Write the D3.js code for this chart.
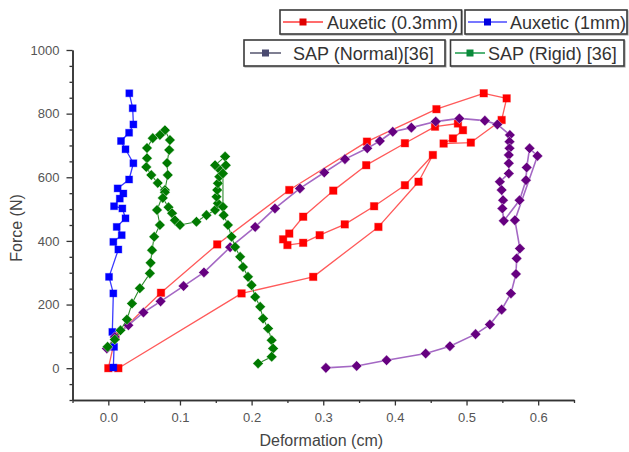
<!DOCTYPE html>
<html>
<head>
<meta charset="utf-8">
<script src="https://cdn.jsdelivr.net/npm/d3@7"></script>
<style>
  html, body { margin: 0; padding: 0; background: #fff; }
  svg { display: block; font-family: "Liberation Sans", Arial, sans-serif; }
</style>
</head>
<body>
<svg id="chart" width="629" height="452"></svg>
<script>
// Force–deformation curves for the auxetic samples and the SAP references
const auxetic03Deformation = [0.0, 0.010, 0.0735, 0.152, 0.2526, 0.361, 0.458, 0.524, 0.556, 0.549, 0.506, 0.468, 0.481, 0.495, 0.488, 0.456, 0.414, 0.360, 0.314, 0.272, 0.2526, 0.244, 0.250, 0.272, 0.295, 0.330, 0.371, 0.414, 0.453, 0.433, 0.377, 0.286, 0.186, 0.014];
const auxetic03Force       = [0, 100, 237, 389, 560, 712, 814, 864, 848, 780, 709, 706, 722, 748, 769, 759, 707, 638, 558, 476, 423, 405, 387, 394, 418, 452, 509, 575, 670, 586, 444, 287, 235, 0];

const auxetic1Deformation = [0.007, 0.008, 0.0056, 0.007, 0.001, 0.014, 0.007, 0.0187, 0.0117, 0.024, 0.0196, 0.008, 0.016, 0.021, 0.013, 0.029, 0.035, 0.024, 0.0177, 0.029, 0.035, 0.034, 0.0293];
const auxetic1Force       = [2, 67, 114, 235, 287, 373, 397, 418, 444, 471, 502, 509, 533, 549, 565, 593, 644, 688, 714, 740, 766, 817, 864];

const sapNormalDeformation = [-0.002, 0.009, 0.028, 0.049, 0.073, 0.105, 0.1335, 0.170, 0.205, 0.2326, 0.2675, 0.3014, 0.3303, 0.3614, 0.379, 0.397, 0.423, 0.457, 0.490, 0.5256, 0.543, 0.5605, 0.560, 0.560, 0.559, 0.559, 0.559, 0.5465, 0.549, 0.551, 0.550, 0.552, 0.574, 0.583, 0.584, 0.588, 0.599, 0.5675, 0.5745, 0.570, 0.569, 0.562, 0.549, 0.5326, 0.5126, 0.4768, 0.443, 0.3884, 0.3466, 0.3037];
const sapNormalForce       = [62, 98, 135, 175, 210, 258, 301, 380, 444, 502, 565, 615, 657, 691, 714, 743, 756, 775, 785, 778, 766, 733, 712, 691, 670, 644, 612, 586, 560, 528, 502, 463, 528, 591, 631, 691, 667, 465, 376, 345, 296, 235, 184, 137, 107, 69, 46, 25, 7, 1];

const sapRigidDeformation = [-0.001, 0.009, 0.017, 0.026, 0.033, 0.044, 0.058, 0.059, 0.061, 0.064, 0.072, 0.068, 0.079, 0.083, 0.082, 0.085, 0.086, 0.079, 0.072, 0.062, 0.054, 0.054, 0.053, 0.060, 0.069, 0.079, 0.076, 0.084, 0.089, 0.093, 0.100, 0.123, 0.137, 0.149, 0.153, 0.151, 0.152, 0.153, 0.155, 0.156, 0.149, 0.163, 0.164, 0.160, 0.160, 0.161, 0.167, 0.172, 0.177, 0.184, 0.188, 0.195, 0.200, 0.205, 0.212, 0.216, 0.223, 0.228, 0.230, 0.228, 0.209];
const sapRigidForce       = [67, 90, 119, 153, 203, 251, 298, 331, 371, 413, 450, 497, 560, 607, 645, 686, 717, 748, 733, 723, 692, 660, 632, 607, 582, 553, 535, 506, 487, 465, 450, 460, 481, 497, 518, 539, 560, 581, 602, 623, 638, 665, 638, 612, 507, 481, 450, 413, 381, 350, 318, 287, 261, 224, 193, 156, 125, 88, 62, 36, 15];

const xTickValues = [0.0, 0.1, 0.2, 0.3, 0.4, 0.5, 0.6];
const yTickValues = [0, 200, 400, 600, 800, 1000];

const seriesNames = ["Auxetic (0.3mm)", "Auxetic (1mm)", "SAP (Normal)[36]", "SAP (Rigid) [36]"];

const toPoints = (xs, ys) => xs.map((x, i) => ({ x, y: ys[i] }));

const series = [
  { name: seriesNames[0], pts: toPoints(auxetic03Deformation, auxetic03Force), line: "#ff5a5a", lw: 1.3, fill: "#ff0000", shape: "square", size: 7.5, legendLine: "#ff3b3b", legendMark: "#e00000" },
  { name: seriesNames[1], pts: toPoints(auxetic1Deformation, auxetic1Force), line: "#3a3aff", lw: 1.3, fill: "#0000ff", shape: "square", size: 7, legendLine: "#4a4aff", legendMark: "#0000e0" },
  { name: seriesNames[2], pts: toPoints(sapNormalDeformation, sapNormalForce), line: "#a468c4", lw: 1.6, fill: "#660080", shape: "diamond", size: 8.5, legendLine: "#55556e", legendMark: "#4a4a70" },
  { name: seriesNames[3], pts: toPoints(sapRigidDeformation, sapRigidForce), line: "#2c8a2c", lw: 1.1, fill: "#007a00", shape: "diamond", size: 8.5, legendLine: "#1a9a4a", legendMark: "#0a8a3a" }
];

const svg = d3.select("#chart");

const x = d3.scaleLinear().domain([-0.05, 0.65]).range([72.5, 574]);
const y = d3.scaleLinear().domain([-100, 1000]).range([400, 50]);

// Axes: ticks point outward, minor ticks every half step
const axisColor = "#333";
const labelColor = "#555";

const xMinor = d3.range(-0.05, 0.651, 0.05).map(v => +v.toFixed(2)).filter(v => !xTickValues.some(t => Math.abs(t - v) < 1e-6));
const yMinor = d3.range(-100, 1001, 50).filter(v => !yTickValues.includes(v));

const xAxisG = svg.append("g").attr("transform", `translate(0,${y(-100)})`);
xAxisG.call(d3.axisBottom(x).tickValues(xMinor).tickSize(3).tickFormat("").tickSizeOuter(0));
xAxisG.append("g").call(d3.axisBottom(x).tickValues(xTickValues).tickSize(5.5).tickPadding(7).tickFormat(d3.format(".1f")).tickSizeOuter(0));

const yAxisG = svg.append("g").attr("transform", `translate(${x(-0.05)},0)`);
yAxisG.call(d3.axisLeft(y).tickValues(yMinor).tickSize(3).tickFormat("").tickSizeOuter(0));
yAxisG.append("g").call(d3.axisLeft(y).tickValues(yTickValues).tickSize(6).tickPadding(7).tickFormat(d3.format("d")).tickSizeOuter(0));

svg.selectAll(".domain").attr("stroke", axisColor).attr("stroke-width", 1.5);
svg.selectAll(".tick line").attr("stroke", axisColor).attr("stroke-width", 1.3);
svg.selectAll(".tick text").attr("fill", labelColor).attr("font-size", 13)
  .attr("font-family", "'Liberation Sans', Arial, sans-serif");

// Axis titles
svg.append("text")
  .attr("x", (x.range()[0] + x.range()[1]) / 2 - 2)
  .attr("y", 446)
  .attr("text-anchor", "middle")
  .attr("font-size", 16)
  .attr("fill", "#444")
  .text("Deformation (cm)");

svg.append("text")
  .attr("transform", `translate(22,228) rotate(-90)`)
  .attr("text-anchor", "middle")
  .attr("font-size", 16)
  .attr("fill", "#444")
  .text("Force (N)");

// Series: lines first, then markers
const lineGen = d3.line().x(d => x(d.x)).y(d => y(d.y));

function drawMarkers(g, s) {
  if (s.shape === "square") {
    g.selectAll("rect").data(s.pts).join("rect")
      .attr("x", d => x(d.x) - s.size / 2)
      .attr("y", d => y(d.y) - s.size / 2)
      .attr("width", s.size)
      .attr("height", s.size)
      .attr("fill", s.fill)
      .attr("stroke", s.fill)
      .attr("stroke-opacity", 0.35)
      .attr("stroke-width", 1);
  } else {
    const h = s.size * 0.62, v = s.size * 0.62;
    g.selectAll("path").data(s.pts).join("path")
      .attr("d", d => {
        const cx = x(d.x), cy = y(d.y);
        return `M${cx},${cy - v}L${cx + h},${cy}L${cx},${cy + v}L${cx - h},${cy}Z`;
      })
      .attr("fill", s.fill)
      .attr("stroke", "#fff")
      .attr("stroke-opacity", 0.5)
      .attr("stroke-width", 0.8);
  }
}

series.forEach(s => {
  const g = svg.append("g");
  g.append("path")
    .datum(s.pts)
    .attr("d", lineGen)
    .attr("fill", "none")
    .attr("stroke", s.line)
    .attr("stroke-width", s.lw)
    .attr("stroke-linejoin", "round");
  drawMarkers(g.append("g"), s);
});

// Legend: four framed entries in two rows
const legendBoxes = [
  { x0: 280, x1: 461.5, y0: 10, y1: 34, l0: 283, l1: 323, tx: 327 },
  { x0: 465, x1: 627, y0: 10, y1: 34, l0: 468, l1: 507, tx: 510 },
  { x0: 244, x1: 445, y0: 40, y1: 66, l0: 250, l1: 281, tx: 293 },
  { x0: 450.5, x1: 624, y0: 40, y1: 66, l0: 455, l1: 485, tx: 488 }
];

const legend = svg.append("g");
legendBoxes.forEach((b, i) => {
  const s = series[i];
  const g = legend.append("g");
  g.append("rect")
    .attr("x", b.x0 + 1).attr("y", b.y0 + 1)
    .attr("width", b.x1 - b.x0).attr("height", b.y1 - b.y0)
    .attr("fill", "none").attr("stroke", "#aaa").attr("stroke-width", 1.2);
  g.append("rect")
    .attr("x", b.x0).attr("y", b.y0)
    .attr("width", b.x1 - b.x0).attr("height", b.y1 - b.y0)
    .attr("fill", "#fff").attr("stroke", "#3a3a3a").attr("stroke-width", 1.6);
  const cy = (b.y0 + b.y1) / 2;
  g.append("line")
    .attr("x1", b.l0).attr("x2", b.l1).attr("y1", cy).attr("y2", cy)
    .attr("stroke", s.legendLine).attr("stroke-width", 1.5);
  g.append("rect")
    .attr("x", (b.l0 + b.l1) / 2 - 3.5).attr("y", cy - 3.5)
    .attr("width", 7).attr("height", 7)
    .attr("fill", s.legendMark);
  g.append("text")
    .attr("x", b.tx).attr("y", cy + 6.5)
    .attr("font-size", 18)
    .attr("fill", "#333")
    .text(s.name);
});
</script>
</body>
</html>
